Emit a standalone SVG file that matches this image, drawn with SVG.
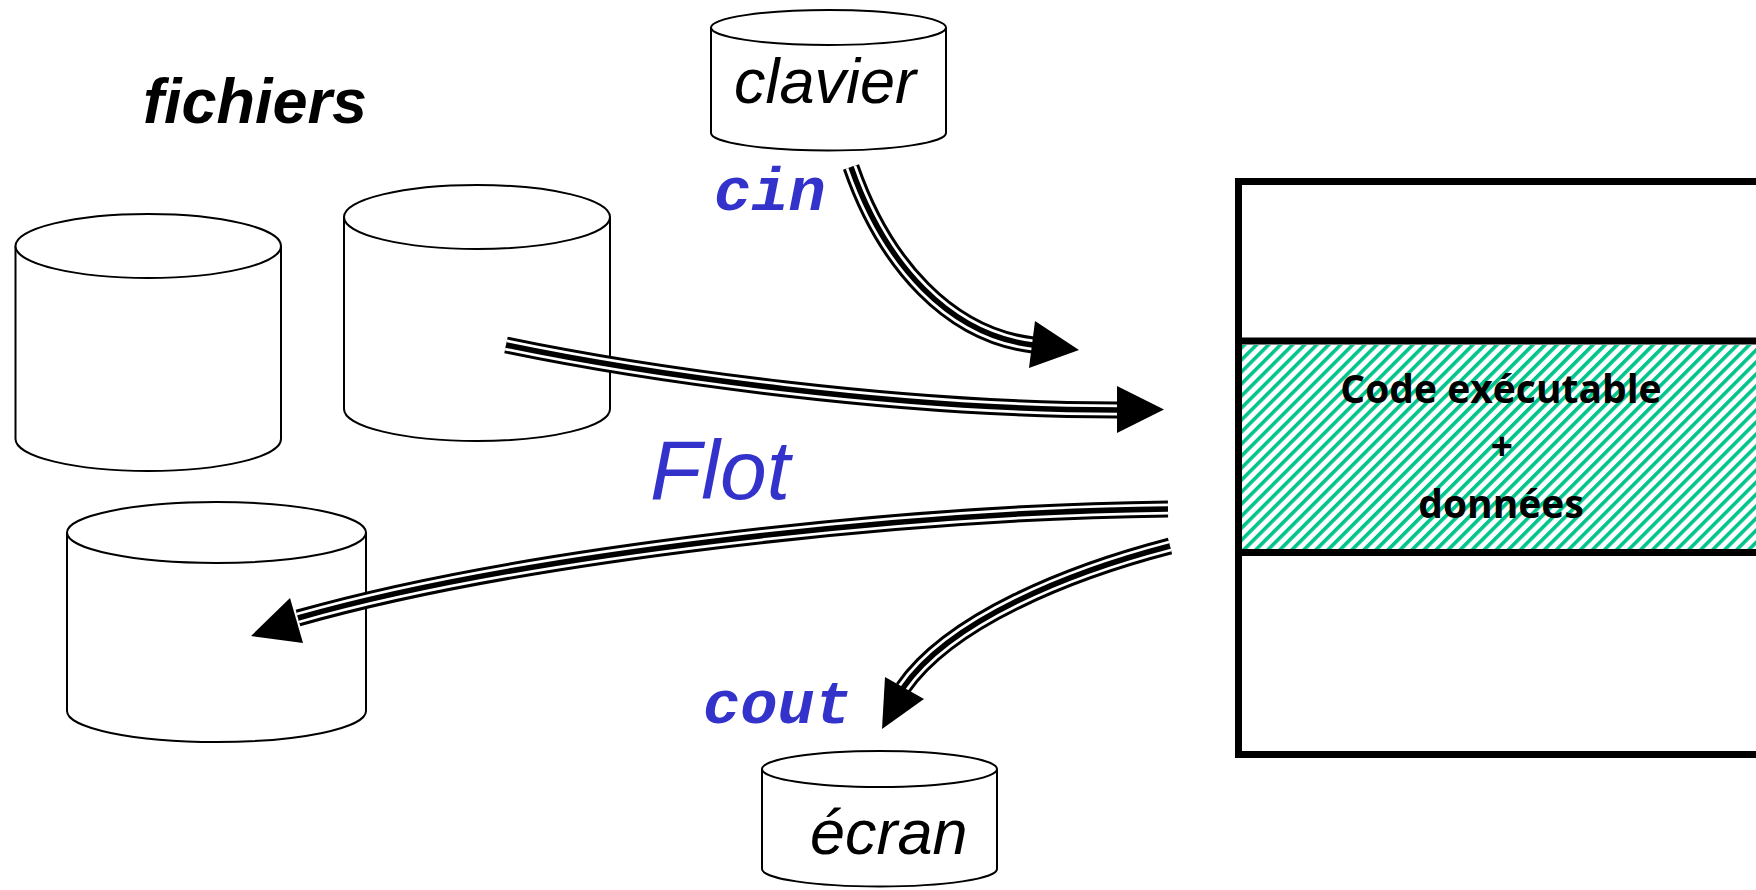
<svg xmlns="http://www.w3.org/2000/svg" xmlns:xlink="http://www.w3.org/1999/xlink" width="1756" height="890" viewBox="0 0 1756 890">
<style>
.cyl{fill:#fff;stroke:#000;stroke-width:2}
.lbl{font-family:"Liberation Sans",Arial,sans-serif;font-style:italic;fill:#000}
.mono{font-family:"Liberation Mono","Courier New",monospace;font-weight:bold;font-style:italic;fill:#3333cc}
.w1{fill:none;stroke:#000;stroke-width:17}
.w2{fill:none;stroke:#fff;stroke-width:11}
.w3{fill:none;stroke:#000;stroke-width:5.5}
.head{fill:#000}
.frame{fill:none;stroke:#000;stroke-width:7}
.mem{font-family:"Open Sans","Noto Sans",sans-serif;font-weight:bold;font-size:39px;fill:#000;text-anchor:middle}
</style>
<defs>
<pattern id="hatch" patternUnits="userSpaceOnUse" width="8.5" height="8.5" patternTransform="rotate(45)">
<rect x="0" y="0" width="8.5" height="8.5" fill="#fff"/>
<rect x="0" y="0" width="3.6" height="8.5" fill="#00c48c"/>
</pattern>
<path id="c1" d="M851,167 C885,265 950,335 1033,345"/>
<path id="c2" d="M506,345 C650,375 900,410 1117,410"/>
<path id="c3" d="M1168,509 C900,512 520,555 298,618"/>
<path id="c4" d="M1170,546 C1070,572 950,620 903,688"/>
</defs>
<rect width="1756" height="890" fill="#fff"/>

<g id="title">
<text class="lbl" x="143" y="123" font-size="63" font-weight="bold">fichiers</text>
</g>

<g id="file1">
<path class="cyl" d="M15.5,246 L15.5,439 A132.75,32 0 0 0 281,439 L281,246"/>
<ellipse class="cyl" cx="148.25" cy="246" rx="132.75" ry="32"/>
</g>

<g id="file2">
<path class="cyl" d="M344,217 L344,409 A133,32 0 0 0 610,409 L610,217"/>
<ellipse class="cyl" cx="477" cy="217" rx="133" ry="32"/>
</g>

<g id="file3">
<path class="cyl" d="M67,532.5 L67,711 A149.5,31 0 0 0 366,711 L366,532.5"/>
<ellipse class="cyl" cx="216.5" cy="532.5" rx="149.5" ry="30.5"/>
</g>

<g id="clavier">
<path class="cyl" d="M711,27.5 L711,133 A117.5,17.5 0 0 0 946,133 L946,27.5"/>
<ellipse class="cyl" cx="828.5" cy="27.5" rx="117.5" ry="17.5"/>
<text class="lbl" x="734" y="103" font-size="63">clavier</text>
</g>

<g id="ecran">
<path class="cyl" d="M762,769 L762,869 A117.5,17.5 0 0 0 997,869 L997,769"/>
<ellipse class="cyl" cx="879.5" cy="769" rx="117.5" ry="18"/>
<text class="lbl" x="810" y="854" font-size="63">écran</text>
</g>

<g id="memory">
<rect x="1242" y="345" width="560" height="204" fill="url(#hatch)"/>
<rect class="frame" x="1238.5" y="181.5" width="600" height="573"/>
<line class="frame" x1="1238.5" y1="341" x2="1800" y2="341"/>
<line class="frame" x1="1238.5" y1="552.5" x2="1800" y2="552.5"/>
<text class="mem" x="1501" y="403">Code exécutable</text>
<text class="mem" x="1502" y="460">+</text>
<text class="mem" x="1501" y="518">données</text>
</g>

<g id="labels">
<text class="mono" x="714" y="210" font-size="62">cin</text>
<text class="mono" x="703" y="723" font-size="62">cout</text>
<text class="lbl" x="650" y="499" font-size="84" style="fill:#3333cc">Flot</text>
</g>

<g id="connectors">
<use xlink:href="#c1" class="w1"/><use xlink:href="#c1" class="w2"/><use xlink:href="#c1" class="w3"/>
<polygon class="head" points="1035,321 1079,350 1029,368"/>
<use xlink:href="#c2" class="w1"/><use xlink:href="#c2" class="w2"/><use xlink:href="#c2" class="w3"/>
<polygon class="head" points="1117,386 1164,409.5 1117,433"/>
<use xlink:href="#c3" class="w1"/><use xlink:href="#c3" class="w2"/><use xlink:href="#c3" class="w3"/>
<polygon class="head" points="290,598 251,636 303,643"/>
<use xlink:href="#c4" class="w1"/><use xlink:href="#c4" class="w2"/><use xlink:href="#c4" class="w3"/>
<polygon class="head" points="885,677 924,699 882,729"/>
</g>
</svg>
